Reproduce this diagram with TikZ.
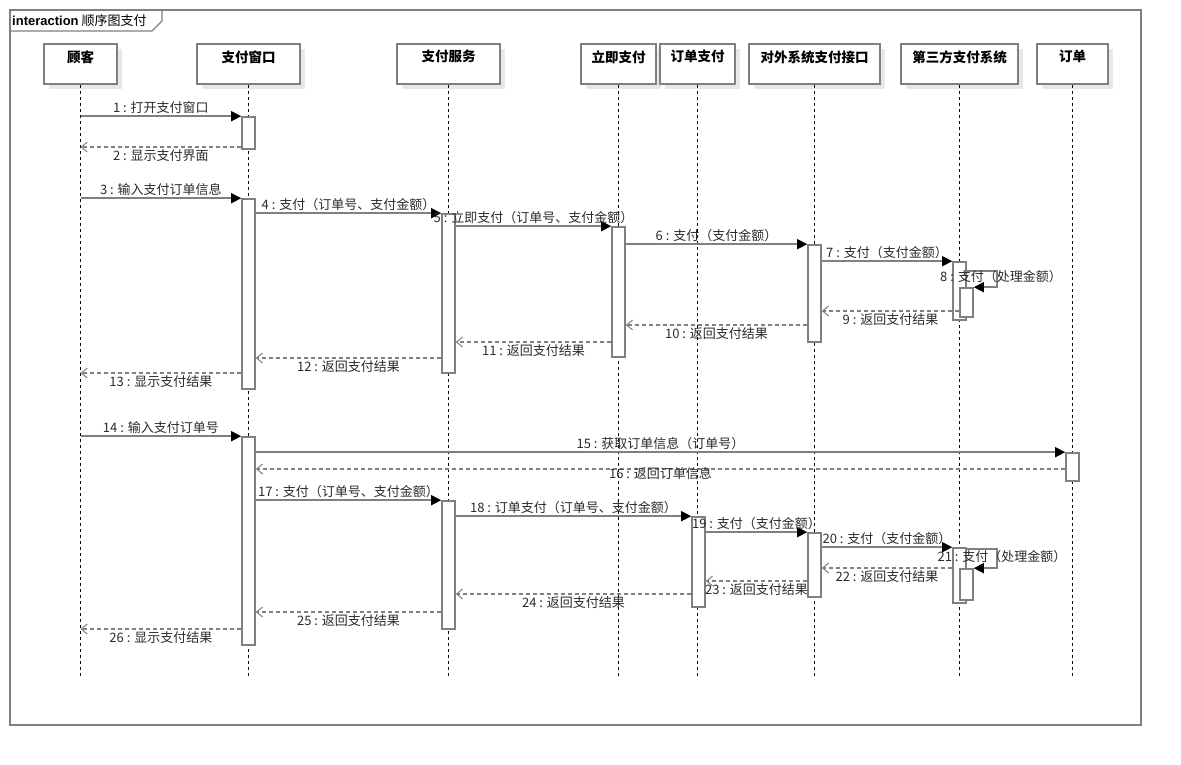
\documentclass[tikz,border=0pt]{standalone}
\usepackage{fontspec}
\setmainfont{Noto Sans CJK SC}
\newfontfamily\latinsans{Liberation Sans}
\usetikzlibrary{arrows.meta,shadows}
\definecolor{linegray}{HTML}{808080}
\definecolor{shadowgray}{HTML}{E8E8E8}
\definecolor{txtgray}{HTML}{2A2A2A}
\begin{document}
\begin{tikzpicture}[x=1pt,y=-1pt,
 frame/.style={draw=linegray, line width=1.3pt},
 head/.style={draw=linegray, line width=1.6pt, fill=white, minimum height=40pt, inner sep=0pt,
   general shadow={fill=shadowgray, shadow xshift=5pt, shadow yshift=-5pt}},
 headtxt/.style={anchor=north, font=\fontsize{13.5}{15}\selectfont\bfseries, inner sep=0pt, yshift=-7pt},
 lifeline/.style={draw=black, line width=0.8pt, dash pattern=on 3pt off 3pt},
 act/.style={draw=linegray, line width=1.6pt, fill=white, minimum width=13pt, inner sep=0pt},
 call/.style={draw=linegray, line width=1.6pt, -{Triangle[length=10pt,width=10pt,color=black]}},
 ret/.style={draw=linegray, line width=1.3pt, dash pattern=on 4pt off 3pt, -{Straight Barb[length=6pt,width=10pt,line width=1pt]}},
 lab/.style={font=\fontsize{13}{15}\selectfont, text=txtgray, inner sep=1pt},
 up/.style={lab, midway, anchor=south, yshift=1pt},
 down/.style={lab, midway, anchor=north, yshift=-1pt}
]
\useasboundingbox (0,0) rectangle (1181,765);
% frame
\draw[frame] (10,10) rectangle (1141,725);
\draw[frame] (10,31) -- (152,31) -- (162,21) -- (162,10);
\node[anchor=west, inner sep=0pt, font=\fontsize{13}{15}\selectfont] (tab) at (12,21) {{\latinsans\bfseries interaction} 顺序图支付};
% heads
\node[head, minimum width=73pt]  (h1) at (80.5,64)  {};
\node[head, minimum width=103pt] (h2) at (248.5,64) {};
\node[head, minimum width=103pt] (h3) at (448.5,64) {};
\node[head, minimum width=75pt]  (h4) at (618.5,64) {};
\node[head, minimum width=75pt]  (h5) at (697.5,64) {};
\node[head, minimum width=131pt] (h6) at (814.5,64) {};
\node[head, minimum width=117pt] (h7) at (959.5,64) {};
\node[head, minimum width=71pt]  (h8) at (1072.5,64) {};
\node[headtxt] (t1) at (h1.north) {顾客};
\node[headtxt] (t2) at (h2.north) {支付窗口};
\node[headtxt] (t3) at (h3.north) {支付服务};
\node[headtxt] (t4) at (h4.north) {立即支付};
\node[headtxt] (t5) at (h5.north) {订单支付};
\node[headtxt] (t6) at (h6.north) {对外系统支付接口};
\node[headtxt] (t7) at (h7.north) {第三方支付系统};
\node[headtxt] (t8) at (h8.north) {订单};
% lifelines
\foreach \h in {h1,h2,h3,h4,h5,h6,h7,h8}
  \draw[lifeline] (\h.south) -- (\h.south |- 0,676);
% activations
\node[act, minimum height=32pt]  (A1)  at (h2 |- 0,133)   {};
\node[act, minimum height=190pt] (A2)  at (h2 |- 0,294)   {};
\node[act, minimum height=159pt] (A3)  at (h3 |- 0,293.5) {};
\node[act, minimum height=130pt] (A4)  at (h4 |- 0,292)   {};
\node[act, minimum height=97pt]  (A5)  at (h6 |- 0,293.5) {};
\node[act, minimum height=58pt]  (A6)  at (h7 |- 0,291)   {};
\node[act, minimum height=29pt]  (A7)  at ([xshift=7pt]h7 |- 0,302.5) {};
\node[act, minimum height=208pt] (A8)  at (h2 |- 0,541)   {};
\node[act, minimum height=28pt]  (A9)  at (h8 |- 0,467)   {};
\node[act, minimum height=128pt] (A10) at (h3 |- 0,565)   {};
\node[act, minimum height=90pt]  (A11) at ([xshift=1pt]h5 |- 0,562) {};
\node[act, minimum height=64pt]  (A12) at (h6 |- 0,565)   {};
\node[act, minimum height=55pt]  (A13) at (h7 |- 0,575.5) {};
\node[act, minimum height=31pt]  (A14) at ([xshift=7pt]h7 |- 0,584.5) {};
% first interaction
\draw[call] (h1.south |- A1.north) -- (A1.north west) node[up] {1 : 打开支付窗口};
\draw[ret] (A1.west |- 0,147) -- (h1.south |- 0,147) node[down] {2 : 显示支付界面};
\draw[call] (h1.south |- A2.north) -- (A2.north west) node[up] {3 : 输入支付订单信息};
\draw[call] (A2.east |- A3.north) -- (A3.north west) node[up] {4 : 支付（订单号、支付金额）};
\draw[call] (A3.east |- A4.north) -- (A4.north west) node[up] {5 : 立即支付（订单号、支付金额）};
\draw[call] (A4.east |- A5.north) -- (A5.north west) node[up] {6 : 支付（支付金额）};
\draw[call] (A5.east |- A6.north) -- (A6.north west) node[up] {7 : 支付（支付金额）};
\draw[call] (A6.east |- 0,271) -| ([xshift=23pt]A7.north east) -- (A7.north east);
\node[lab] (l8) at (1001,277) {8 : 支付（处理金额）};
\draw[ret] (A7.west |- 0,311) -- (A5.east |- 0,311) node[down] {9 : 返回支付结果};
\draw[ret] (A5.west |- 0,325) -- (A4.east |- 0,325) node[down] {10 : 返回支付结果};
\draw[ret] (A4.west |- 0,342) -- (A3.east |- 0,342) node[down] {11 : 返回支付结果};
\draw[ret] (A3.west |- 0,358) -- (A2.east |- 0,358) node[down] {12 : 返回支付结果};
\draw[ret] (A2.west |- 0,373) -- (h1.south |- 0,373) node[down] {13 : 显示支付结果};
% second interaction
\draw[call] (h1.south |- A8.north) -- (A8.north west) node[up] {14 : 输入支付订单号};
\draw[call] (A8.east |- A9.north) -- (A9.north west) node[up] {15 : 获取订单信息（订单号）};
\draw[ret] (A9.west |- 0,469) -- (A8.east |- 0,469) node[lab, midway, anchor=north, yshift=3pt] {16 : 返回订单信息};
\draw[call] (A8.east |- A10.north) -- (A10.north west) node[up] {17 : 支付（订单号、支付金额）};
\draw[call] (A10.east |- A11.north) -- (A11.north west) node[up] {18 : 订单支付（订单号、支付金额）};
\draw[call] (A11.east |- A12.north) -- (A12.north west) node[up] {19 : 支付（支付金额）};
\draw[call] (A12.east |- A13.north) -- (A13.north west) node[up] {20 : 支付（支付金额）};
\draw[call] (A13.east |- 0,549) -| ([xshift=23pt]A14.north east) -- (A14.north east);
\node[lab] (l21) at (1002,557) {21 : 支付（处理金额）};
\draw[ret] (A13.west |- 0,568) -- (A12.east |- 0,568) node[down] {22 : 返回支付结果};
\draw[ret] (A12.west |- 0,581) -- (A11.east |- 0,581) node[down] {23 : 返回支付结果};
\draw[ret] (A11.west |- 0,594) -- (A10.east |- 0,594) node[down] {24 : 返回支付结果};
\draw[ret] (A10.west |- 0,612) -- (A8.east |- 0,612) node[down] {25 : 返回支付结果};
\draw[ret] (A8.west |- 0,629) -- (h1.south |- 0,629) node[down] {26 : 显示支付结果};
\end{tikzpicture}
\end{document}
